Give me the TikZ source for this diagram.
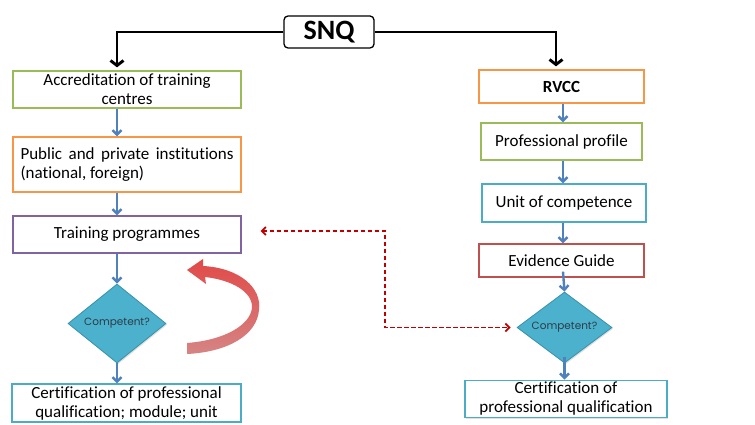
\documentclass[tikz,border=0pt]{standalone}
\usepackage{fontspec}
\setmainfont{Carlito}[Ligatures=NoCommon]
\newfontfamily\gothic{Poppins}
\usetikzlibrary{arrows.meta,shapes.geometric,shadows}

\definecolor{grnline}{RGB}{155,187,89}
\definecolor{orgline}{RGB}{247,150,70}
\definecolor{purline}{RGB}{128,100,162}
\definecolor{cynline}{RGB}{75,172,198}
\definecolor{redline}{RGB}{192,80,77}
\definecolor{bluarrow}{RGB}{79,129,189}
\definecolor{darkred}{RGB}{192,0,0}
\definecolor{cynfill}{RGB}{75,177,205}
\definecolor{cyndark}{RGB}{55,145,170}
\definecolor{diatext}{RGB}{45,60,70}

\tikzset{
  box/.style={draw, line width=1.3pt, fill=white, align=center, inner sep=2pt,
    font=\fontsize{17}{19}\selectfont,
    drop shadow={shadow xshift=1.2pt, shadow yshift=-1.2pt, opacity=0.25}},
  decision/.style={diamond, draw=cyndark, fill=cynfill, line width=0.8pt,
    inner sep=0pt, text=diatext, font=\gothic\fontsize{10.5}{12}\selectfont,
    drop shadow={shadow xshift=1.2pt, shadow yshift=-1.2pt, opacity=0.25}},
  flow/.style={draw=bluarrow, line width=2.4pt, -{Straight Barb[length=4.5pt,width=9pt]}},
  main/.style={line width=2.9pt, -{Straight Barb[length=5pt,width=13pt]}},
  link/.style={draw=darkred, line width=1.7pt, dash pattern=on 4.5pt off 2.5pt,
    {Straight Barb[length=4pt,width=8pt]}-{Straight Barb[length=4pt,width=8pt]}}
}

\begin{document}
\begin{tikzpicture}[x=1pt,y=-1pt]
\useasboundingbox (0,0) rectangle (755,425);
\coordinate (cl) at (117,0);
\coordinate (cr) at (563,0);
\coordinate (cs) at (556,0);
\coordinate (dk) at (385,231);

\node[draw, rounded corners=4pt, line width=1.3pt, fill=white, minimum width=90pt,
  minimum height=32pt, font=\bfseries\fontsize{28}{30}\selectfont] (snq) at (329,32) {SNQ};

% left column
\node[box, draw=grnline, minimum width=228pt, minimum height=37pt] (acc) at (127,89.5)
  {Accreditation of training\\centres};
\node[box, draw=orgline, minimum width=228pt, minimum height=55pt, text width=213pt,
  align=justify] (pub) at (127,164.5) {Public and private institutions (national, foreign)};
\node[box, draw=purline, minimum width=228pt, minimum height=37pt] (trn) at (127,234.5)
  {Training programmes};
\node[decision, minimum width=98pt, minimum height=79pt] (dl) at (117,323.5)
  {\makebox[0pt]{Competent?}};
\node[box, draw=cynline, minimum width=229pt, minimum height=38pt] (certl) at (126.5,403)
  {Certification of professional\\qualification; module; unit};

% right column
\node[box, draw=orgline, minimum width=165pt, minimum height=33pt,
  font=\bfseries\fontsize{17}{19}\selectfont] (rvcc) at (561.5,86.5) {RVCC};
\node[box, draw=grnline, minimum width=161pt, minimum height=37pt] (prof) at (561.5,141.5)
  {Professional profile};
\node[box, draw=cynline, minimum width=164pt, minimum height=38pt] (unit) at (564,203)
  {Unit of competence};
\node[box, draw=redline, minimum width=165pt, minimum height=33pt] (evid) at (561.5,260.5)
  {Evidence Guide};
\node[decision, minimum width=95pt, minimum height=71pt] (dr) at (564.5,327.5)
  {\makebox[0pt]{Competent?}};
\node[box, draw=cynline, minimum width=202pt, minimum height=36pt] (certr) at (566,399)
  {Certification of\\professional qualification};

\draw[main] (snq.west) -| ([yshift=3pt]acc.north -| cl);
\draw[main] (snq.east) -| ([yshift=3pt]rvcc.north -| cs);

\draw[flow] (acc.south -| cl) -- (pub.north -| cl);
\draw[flow] (pub.south -| cl) -- (trn.north -| cl);
\draw[flow] (trn.south -| cl) -- (dl.north);
\draw[flow] (dl.south) -- (certl.north -| cl);

\draw[flow] (rvcc.south -| cr) -- (prof.north -| cr);
\draw[flow] (prof.south -| cr) -- (unit.north -| cr);
\draw[flow] (unit.south -| cr) -- (evid.north -| cr);
\draw[flow] ([yshift=6pt]evid.south -| cr) -- (dr.north);
\draw[flow] ([yshift=6pt]dr.south) -- (certr.north -| dr.south);

\draw[link] ([xshift=19pt]trn.east |- dk) -- (dk) |- ([xshift=-6pt]dr.west);

% curved return arrow
\shade[top color={rgb,255:red,224;green,74;blue,72}, bottom color={rgb,255:red,214;green,132;blue,132}]
  (187,343) .. controls (225,340) and (250,325) .. (252,308)
  .. controls (253,292) and (232,280) .. (205,277) -- (206,284) -- (187,270)
  -- (203,259) -- (203,266) .. controls (240,268) and (262,288) .. (259,310)
  .. controls (257,335) and (228,352) .. (187,354) -- cycle;
\end{tikzpicture}
\end{document}
